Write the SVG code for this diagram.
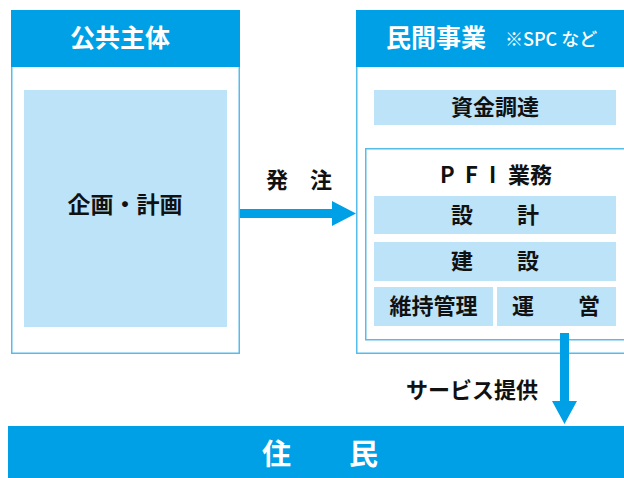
<svg xmlns="http://www.w3.org/2000/svg" width="624" height="478" viewBox="0 0 624 478">
<style>
.frame{fill:#ffffff;stroke:#55bdec;stroke-width:1.5}
.head{fill:#00a0e6}
.cell{fill:#bce3f8}
.arrow{fill:#00a0e6}
text{font-family:"Noto Sans CJK JP","Noto Sans",sans-serif;font-weight:bold}
.wt{fill:#ffffff;font-size:24px}
.bk{fill:#111111;font-size:22px}
.c{text-anchor:middle}
</style>
<rect width="624" height="478" fill="#ffffff"/>
<g id="public">
<rect class="frame" x="11.75" y="10.75" width="227.5" height="342.5"/>
<rect class="head" x="11" y="10" width="229" height="57"/>
<text class="wt c" x="120" y="47" style="font-size:25px">公共主体</text>
<rect class="cell" x="24" y="90" width="203" height="237"/>
<text class="bk c" x="125" y="213" style="font-size:23px">企画・計画</text>
</g>
<g id="private">
<rect class="frame" x="356.75" y="10.75" width="280" height="342.5"/>
<rect class="head" x="356" y="10" width="270" height="57"/>
<text class="wt" x="386" y="47" style="font-size:25px">民間事業</text>
<text class="wt" x="505" y="46" style="font-size:18px;font-weight:500">※SPC など</text>
</g>
<g id="funding">
<rect class="cell" x="374" y="90" width="242" height="35"/>
<text class="bk c" x="495" y="115">資金調達</text>
</g>
<g id="pfi">
<rect class="frame" x="365.75" y="148.75" width="270" height="191"/>
<text class="bk" x="440 465 489 508 530" y="183">PFI業務</text>
</g>
<g id="design">
<rect class="cell" x="374" y="196" width="242" height="38"/>
<text class="bk c" x="495" y="223">設　　計</text>
</g>
<g id="construction">
<rect class="cell" x="374" y="242" width="242" height="39"/>
<text class="bk c" x="495" y="269">建　　設</text>
</g>
<g id="maintenance">
<rect class="cell" x="374" y="287" width="119" height="39"/>
<text class="bk c" x="433.5" y="314">維持管理</text>
</g>
<g id="operation">
<rect class="cell" x="497" y="287" width="119" height="39"/>
<text class="bk c" x="556" y="314">運　　営</text>
</g>
<g id="residents">
<rect class="head" x="8" y="426" width="616" height="52"/>
<text class="wt c" x="320" y="465" style="font-size:29px">住　　民</text>
</g>
<g id="connectors">
<polygon class="arrow" points="240,209 332,209 332,201 356,213.5 332,226 332,218 240,218"/>
<text class="bk c" x="299" y="188">発　注</text>
<polygon class="arrow" points="560,333 569,333 569,401 577,401 564.5,424 552,401 560,401"/>
<text class="bk c" x="472" y="398">サービス提供</text>
</g>
</svg>
